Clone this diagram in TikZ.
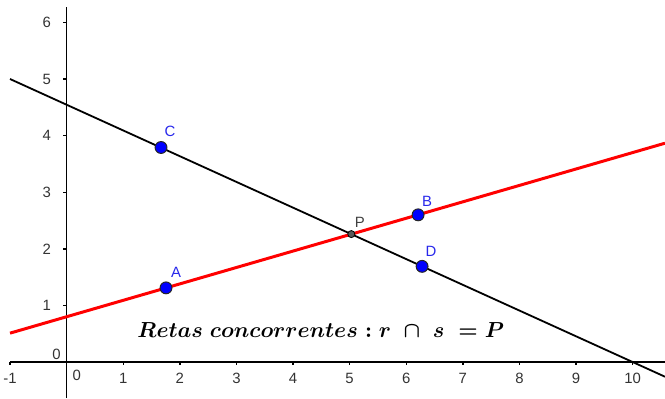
\documentclass[tikz,border=0pt]{standalone}
\usepackage{fontspec}
\usepackage{amsmath}
\newfontfamily\geofont{Liberation Sans}
\definecolor{ptblue}{RGB}{0,0,255}
\definecolor{lblblue}{RGB}{40,40,235}
\newcommand\retastext{{\mathversion{bold}$Retas\;concorrentes: r\;\cap\;s\;=P$}}
\begin{document}
\begin{tikzpicture}[x=1cm, y=1cm,
  every node/.style={font=\geofont\fontsize{7.5}{9}\selectfont},
  axis/.style={black, line width=0.7pt},
  pt/.style={circle, draw=black!85, fill=ptblue, line width=0.5pt, inner sep=0pt, minimum size=2.1mm},
  cut/.style={circle, draw=black, fill=black!65, line width=0.4pt, inner sep=0pt, minimum size=1.25mm},
  lbl/.style={text=lblblue},
  bigmath/.style={font=\fontsize{10.6}{13}\selectfont}]
  \useasboundingbox (-1.177,-0.636) rectangle (10.572,6.396);

  \coordinate (XL) at (-1,0);
  \coordinate (XR) at (10.572,0);
  \coordinate (YB) at (0,-0.636);
  \coordinate (YT) at (0,6.27);
  \coordinate (R1) at (-1,0.51);
  \coordinate (R2) at (10.572,3.866);
  \coordinate (S1) at (-1,5);
  \coordinate (S2) at (10.572,-0.26);

  % axes
  \draw[axis] (XL)--(XR);
  \draw[axis] (YB)--(YT);
  \foreach \x in {-1,1,2,...,10}
    \draw[axis] (\x,0)--(\x,-0.06) node[below=0pt, black!80] (tx\x) {\x};
  \node[black!80] (tx0) at (0.18,-0.23) {0};
  \foreach \y in {1,...,6}
    \draw[axis] (0,\y)--(-0.06,\y) node[left=2.5pt, black!80] (ty\y) {\y};
  \node[black!80] (ty0) at (-0.18,0.13) {0};

  % lines r and s
  \draw[red, line width=1.5pt] (R1)--(R2);
  \draw[black, line width=0.9pt] (S1)--(S2);

  \node[pt]  (A) at (1.756,1.31) {};
  \node[pt]  (B) at (6.21,2.60) {};
  \node[pt]  (C) at (1.668,3.79) {};
  \node[pt]  (D) at (6.28,1.69) {};
  \node[cut] (P) at (5.03,2.26) {};

  \node[lbl]      (Alab) at (1.933,1.59) {A};
  \node[lbl]      (Blab) at (6.37,2.845) {B};
  \node[lbl]      (Clab) at (1.827,4.08) {C};
  \node[lbl]      (Dlab) at (6.44,1.96) {D};
  \node[black!75] (Plab) at (5.18,2.47) {P};

  \node[bigmath] (rel) at (4.49,0.57) {\retastext};
\end{tikzpicture}
\end{document}
